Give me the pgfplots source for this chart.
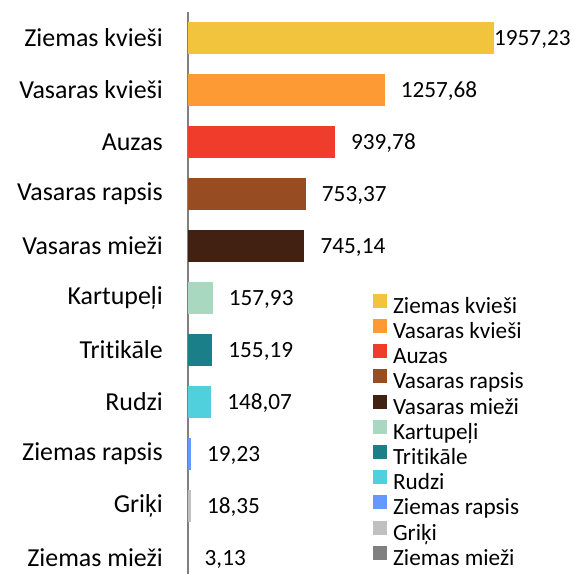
\documentclass[border=0pt]{standalone}
\usepackage{fontspec}
\setmainfont{Carlito}[Ligatures=NoCommon]
\usepackage{pgfplots}
\pgfplotsset{compat=1.18}
\definecolor{c1}{HTML}{F2C43D}
\definecolor{c2}{HTML}{FD9A33}
\definecolor{c3}{HTML}{F03C2A}
\definecolor{c4}{HTML}{974C22}
\definecolor{c5}{HTML}{422012}
\definecolor{c6}{HTML}{A9D8C0}
\definecolor{c7}{HTML}{1B7F89}
\definecolor{c8}{HTML}{50D0DC}
\definecolor{c9}{HTML}{6699FF}
\definecolor{c10}{HTML}{C0C0C0}
\definecolor{c11}{HTML}{808080}
\begin{document}
\begin{tikzpicture}
\begin{axis}[
  name=ax,
  scale only axis, width=386bp, height=562bp,
  xmin=0, xmax=2469, ymin=-0.308, ymax=10.5,
  xbar, bar width=32.5bp, bar shift=0pt,
  axis x line=none, axis y line*=left,
  axis line style={-},
  y axis line style={draw=gray, line width=1.75bp},
  ytick={0,...,10}, major tick length=0pt,
  yticklabels={Ziemas mieži, Griķi, Ziemas rapsis, Rudzi, Tritikāle, Kartupeļi, Vasaras mieži, Vasaras rapsis, Auzas, Vasaras kvieši, Ziemas kvieši},
  yticklabel style={font=\fontsize{26}{30}\selectfont, inner sep=0pt, xshift=-25bp},
  point meta=x,
  nodes near coords={\pgfmathprintnumber{\pgfplotspointmeta}},
  nodes near coords style={anchor=west, font=\fontsize{23.3}{27}\selectfont, inner sep=0pt, xshift=16bp, yshift=-1.5bp, text=black},
  /pgf/number format/.cd, use comma, 1000 sep={}, fixed, fixed zerofill, precision=2, assume math mode=true,
  /pgfplots/.cd,
  legend style={at={(0.479,0.499)}, anchor=north west, draw=none, fill=none,
    font=\fontsize{23.3}{27}\selectfont, row sep=0.7bp, column sep=6bp, inner sep=0pt,
    nodes={inner sep=0pt, text height=16bp, text depth=5bp}, cells={anchor=west}},
  legend image code/.code={\fill[#1] (0bp,0bp) rectangle (14bp,14bp);},
]
\addplot[fill=c1, draw=none, every node near coord/.append style={xshift=-16bp}] coordinates {(1957.23,10)};
\addlegendentry{Ziemas kvieši}
\addplot[fill=c2, draw=none] coordinates {(1257.68,9)};
\addlegendentry{Vasaras kvieši}
\addplot[fill=c3, draw=none] coordinates {(939.78,8)};
\addlegendentry{Auzas}
\addplot[fill=c4, draw=none] coordinates {(753.37,7)};
\addlegendentry{Vasaras rapsis}
\addplot[fill=c5, draw=none] coordinates {(745.14,6)};
\addlegendentry{Vasaras mieži}
\addplot[fill=c6, draw=none] coordinates {(157.93,5)};
\addlegendentry{Kartupeļi}
\addplot[fill=c7, draw=none] coordinates {(155.19,4)};
\addlegendentry{Tritikāle}
\addplot[fill=c8, draw=none] coordinates {(148.07,3)};
\addlegendentry{Rudzi}
\addplot[fill=c9, draw=none] coordinates {(19.23,2)};
\addlegendentry{Ziemas rapsis}
\addplot[fill=c10, draw=none] coordinates {(18.35,1)};
\addlegendentry{Griķi}
\addplot[fill=c11, draw=none] coordinates {(3.13,0)};
\addlegendentry{Ziemas mieži}
\end{axis}
\pgfresetboundingbox
\path ([xshift=-188bp]ax.south west) rectangle ([yshift=12bp]ax.north east);
\end{tikzpicture}
\end{document}
